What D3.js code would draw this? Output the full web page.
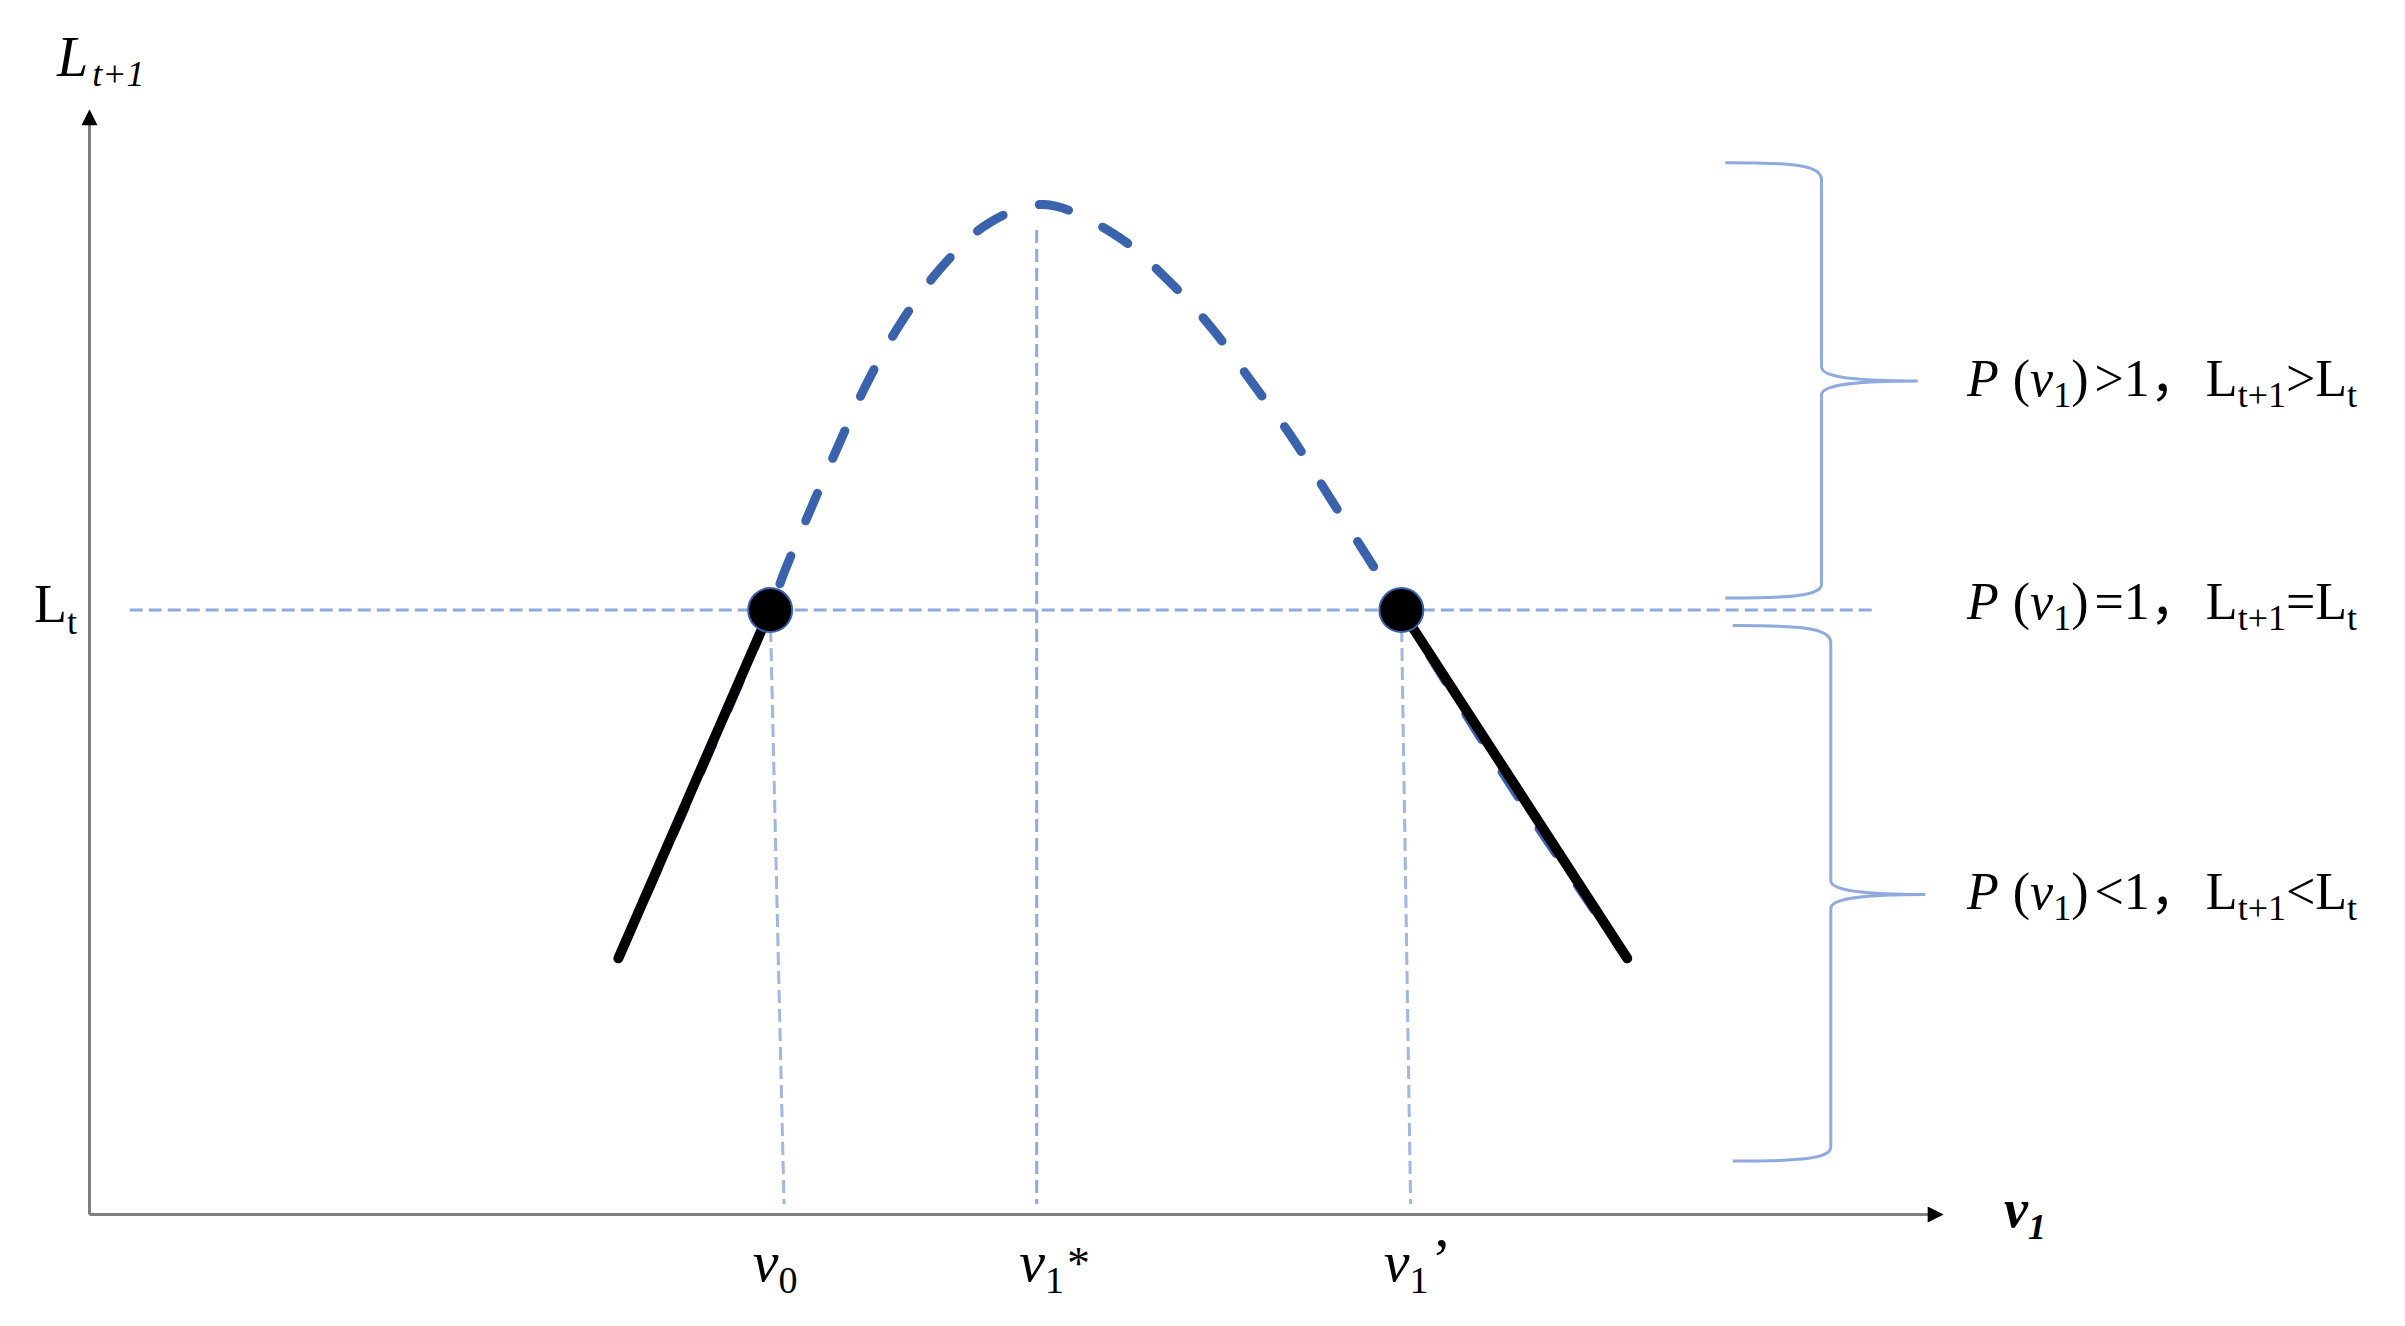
<!DOCTYPE html>
<html>
<head>
<meta charset="utf-8">
<script src="https://cdn.jsdelivr.net/npm/d3@7"></script>
<style>
  body { margin: 0; background: #fff; }
  svg { display: block; font-family: "Liberation Serif", "Times New Roman", serif; }
</style>
</head>
<body>
<svg id="svg" width="2405" height="1326"></svg>
<script>
// level L_t and the three marked v1 values
const levelLt = 54.8;
const xTickValues = [36.8, 51.2, 70.9];
const xTickBottoms = [37.55, 51.2, 71.4];   // the guides lean a little
const xTickSubs = ["0", "1", "1"];
const xTickSups = ["", "*", "\u2019"];

// dashed blue curve L_{t+1}(v1)
const curveV = [28.6, 32.6, 36.8, 37.6, 39.0, 40.5, 42.0, 43.8, 46.0, 48.6, 51.6, 55.4, 58.2, 60.7, 62.9, 65.1, 67.0, 69.0, 70.9, 77.0, 83.1];
const curveL = [23.2, 38.4, 54.8, 58.4, 64.0, 69.8, 75.3, 80.7, 85.8, 89.9, 91.6, 88.9, 84.9, 80.3, 75.3, 70.2, 65.1, 59.8, 54.8, 38.4, 23.2];

// solid black pieces where L_{t+1} < L_t
const solidV = [[28.6, 36.8], [70.9, 83.1]];
const solidL = [[23.2, 54.8], [54.8, 23.2]];

// braces on the right: [top, tip, bottom] in L units, and x positions [end, spine, tip]
const braceL = [[95.4, 75.6, 55.9], [53.4, 29.0, 4.8]];
const braceV = [[88.4, 93.6, 98.8], [88.8, 94.1, 99.2]];

// region labels
const regionSigns = [">", "=", "<"];
const regionL = [75.6, 54.8, 29.0];

const svg = d3.select("#svg");
const x = d3.scaleLinear().domain([0, 100]).range([89, 1940]);
const y = d3.scaleLinear().domain([0, 100]).range([1214, 112]);

const guideColor = "#8faadc";
const blue = "#3a62ad";

svg.append("defs").append("marker")
    .attr("id", "arrow")
    .attr("viewBox", "0 0 10 10")
    .attr("refX", 8).attr("refY", 5)
    .attr("markerUnits", "userSpaceOnUse")
    .attr("markerWidth", 17).attr("markerHeight", 16)
    .attr("orient", "auto")
  .append("path")
    .attr("d", "M0,0L10,5L0,10z")
    .attr("fill", "#000");

// guide lines
const guides = svg.append("g")
    .attr("stroke", guideColor)
    .attr("stroke-width", 3)
    .attr("stroke-dasharray", "13,6")
    .attr("fill", "none");

guides.append("line")
    .attr("x1", x(2.2)).attr("x2", x(96.5))
    .attr("y1", y(levelLt)).attr("y2", y(levelLt));

xTickValues.forEach((v, i) => {
    const top = i === 1 ? 89.3 : levelLt;
    guides.append("line")
        .attr("x1", x(v)).attr("y1", y(top))
        .attr("x2", x(xTickBottoms[i])).attr("y2", y(0.9))
        .attr("opacity", i === 1 ? 1 : 0.85);
});

// braces
braceL.forEach((b, i) => {
    const [x0, xm, xt] = braceV[i].map(x);
    const [yt, yc, yb] = b.map(y);
    const p = d3.path();
    p.moveTo(x0, yt);
    p.bezierCurveTo(xm - 30, yt, xm, yt + 2, xm, yt + 17);
    p.lineTo(xm, yc - 14);
    p.bezierCurveTo(xm, yc - 3, xm + 40, yc, xt, yc);
    p.bezierCurveTo(xm + 40, yc, xm, yc + 3, xm, yc + 14);
    p.lineTo(xm, yb - 14);
    p.bezierCurveTo(xm, yb - 2, xm - 30, yb, x0, yb);
    svg.append("path")
        .attr("d", p.toString())
        .attr("fill", "none")
        .attr("stroke", guideColor)
        .attr("stroke-width", 3);
});

// axes
const xAxis = svg.append("g")
    .attr("transform", `translate(0,${y(0)})`)
    .call(d3.axisBottom(x).tickValues(xTickValues).tickSize(0).tickSizeOuter(0).tickFormat(""));
const yAxis = svg.append("g")
    .attr("transform", `translate(${x(0)},0)`)
    .call(d3.axisLeft(y).tickValues([levelLt]).tickSize(0).tickSizeOuter(0).tickFormat(""));

[xAxis, yAxis].forEach(g => {
    g.select(".domain")
        .attr("stroke", "#808080")
        .attr("stroke-width", 3)
        .attr("marker-end", "url(#arrow)");
    g.selectAll(".tick text").remove();
});

xAxis.selectAll(".tick").each(function (d, i) {
    const t = d3.select(this).append("text")
        .attr("x", -18).attr("y", 67)
        .attr("fill", "#000")
        .attr("font-family", "Liberation Serif")
        .attr("font-size", 58)
        .attr("text-anchor", "start");
    t.append("tspan").attr("font-style", "italic").text("v");
    t.append("tspan").attr("font-size", 38).attr("dy", 12).text(xTickSubs[i]);
    if (xTickSups[i]) t.append("tspan")
        .attr("font-size", i === 2 ? 60 : 46)
        .attr("dy", -14).attr("dx", 3)
        .text(xTickSups[i]);
});

yAxis.selectAll(".tick").each(function () {
    const t = d3.select(this).append("text")
        .attr("x", -12).attr("y", 11)
        .attr("fill", "#000")
        .attr("font-family", "Liberation Serif")
        .attr("font-size", 54)
        .attr("text-anchor", "end");
    t.append("tspan").text("L");
    t.append("tspan").attr("font-size", 36).attr("dy", 12).text("t");
});

// axis titles
const yTitle = svg.append("text")
    .attr("x", x(0) - 32).attr("y", 76)
    .attr("font-size", 56).attr("font-style", "italic");
yTitle.append("tspan").text("L");
yTitle.append("tspan").attr("font-size", 36).attr("dy", 10).attr("dx", 4).text("t+1");

const xTitle = svg.append("text")
    .attr("x", 2004).attr("y", y(0) + 13)
    .attr("font-size", 54).attr("font-style", "italic").attr("font-weight", "bold");
xTitle.append("tspan").text("v");
xTitle.append("tspan").attr("font-size", 36).attr("dy", 12).text("1");

// dashed curve
const line = d3.line()
    .x((d, i) => x(curveV[i]))
    .y((d, i) => y(curveL[i]))
    .curve(d3.curveCatmullRom);

svg.append("path")
    .datum(curveV)
    .attr("d", line)
    .attr("fill", "none")
    .attr("stroke", blue)
    .attr("stroke-width", 9)
    .attr("stroke-linecap", "round")
    .attr("stroke-dasharray", "30,38");

// solid black pieces
solidV.forEach((vs, i) => {
    svg.append("line")
        .attr("x1", x(vs[0])).attr("y1", y(solidL[i][0]))
        .attr("x2", x(vs[1])).attr("y2", y(solidL[i][1]))
        .attr("stroke", "#000")
        .attr("stroke-width", 10)
        .attr("stroke-linecap", "round");
});

// equilibrium points
svg.selectAll("circle.eq")
    .data([xTickValues[0], xTickValues[2]])
    .join("circle")
    .attr("class", "eq")
    .attr("cx", d => x(d))
    .attr("cy", y(levelLt))
    .attr("r", 22)
    .attr("fill", "#000")
    .attr("stroke", blue)
    .attr("stroke-width", 2);

// region labels
regionSigns.forEach((s, i) => {
    const t = svg.append("text")
        .attr("x", 1967).attr("y", y(regionL[i]) + (i === 1 ? 9 : 15))
        .attr("font-size", 52).attr("fill", "#000");
    t.append("tspan").attr("font-style", "italic").text("P");
    t.append("tspan").attr("dx", 14).text("(");
    t.append("tspan").attr("font-style", "italic").text("v");
    t.append("tspan").attr("font-size", 36).attr("dy", 11).text("1");
    t.append("tspan").attr("dy", -11).text(")");
    t.append("tspan").attr("dx", 6).text(s + "1");
    t.append("tspan").attr("font-family", "Noto Sans CJK SC").text("\uff0c");
    t.append("tspan").attr("dx", 4).text("L");
    t.append("tspan").attr("font-size", 36).attr("dy", 11).text("t+1");
    t.append("tspan").attr("dy", -11).text(s + "L");
    t.append("tspan").attr("font-size", 36).attr("dy", 11).text("t");
});
</script>
</body>
</html>
